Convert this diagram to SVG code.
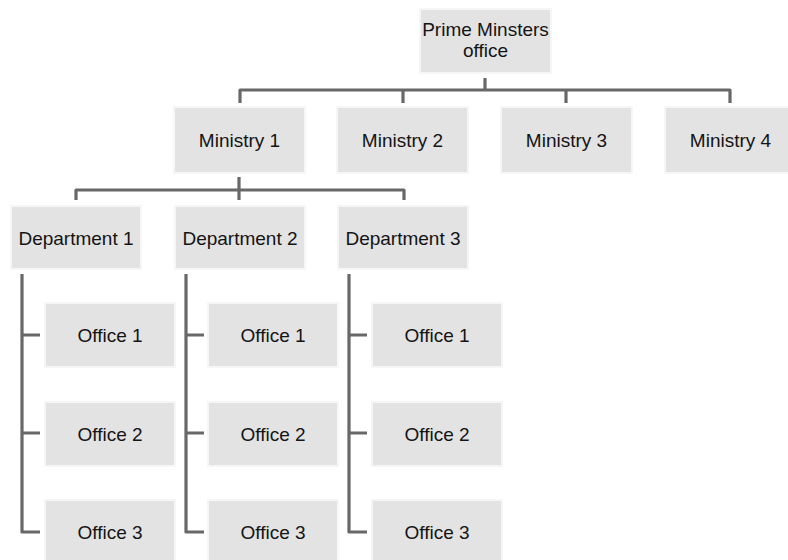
<svg xmlns="http://www.w3.org/2000/svg" width="788" height="560" viewBox="0 0 788 560">
  <style>
    .box { fill: #e3e3e3; stroke: #f6f6f6; stroke-width: 2; }
    .lbl { font-family: "Liberation Sans", Arial, sans-serif; font-size: 19px; fill: #141414; text-anchor: middle; }
    .wire { fill: none; stroke: #686868; stroke-width: 3.2; stroke-linejoin: round; }
  </style>
  <rect width="788" height="560" fill="#ffffff"/>

  <g id="connectors">
    <!-- PM office to ministries -->
    <path class="wire" d="M485,78 V90"/>
    <path class="wire" d="M240,103 V90 H730 V103"/>
    <path class="wire" d="M403,90 V103"/>
    <path class="wire" d="M566,90 V103"/>
    <!-- Ministry 1 to departments -->
    <path class="wire" d="M239,177 V200"/>
    <path class="wire" d="M76,200 V190 H404 V200"/>
    <!-- Department 1 to offices -->
    <path class="wire" d="M22,274 V532 H40"/>
    <path class="wire" d="M22,335 H40 M22,433 H40"/>
    <!-- Department 2 to offices -->
    <path class="wire" d="M186,274 V532 H204"/>
    <path class="wire" d="M186,335 H204 M186,433 H204"/>
    <!-- Department 3 to offices -->
    <path class="wire" d="M349,274 V532 H367"/>
    <path class="wire" d="M349,335 H367 M349,433 H367"/>
  </g>

  <g id="pm-office">
    <rect class="box" x="420" y="9" width="131" height="64"/>
    <text class="lbl" x="485.5" y="36">Prime Minsters</text>
    <text class="lbl" x="485.5" y="57">office</text>
  </g>

  <g id="ministry-1">
    <rect class="box" x="174" y="107" width="131" height="66"/>
    <text class="lbl" x="239.5" y="147">Ministry 1</text>
  </g>
  <g id="ministry-2">
    <rect class="box" x="337" y="107" width="131" height="66"/>
    <text class="lbl" x="402.5" y="147">Ministry 2</text>
  </g>
  <g id="ministry-3">
    <rect class="box" x="501" y="107" width="131" height="66"/>
    <text class="lbl" x="566.5" y="147">Ministry 3</text>
  </g>
  <g id="ministry-4">
    <rect class="box" x="665" y="107" width="131" height="66"/>
    <text class="lbl" x="730.5" y="147">Ministry 4</text>
  </g>

  <g id="department-1">
    <rect class="box" x="11" y="206" width="130" height="63"/>
    <text class="lbl" x="76" y="245">Department 1</text>
  </g>
  <g id="department-2">
    <rect class="box" x="175" y="206" width="130" height="63"/>
    <text class="lbl" x="240" y="245">Department 2</text>
  </g>
  <g id="department-3">
    <rect class="box" x="338" y="206" width="130" height="63"/>
    <text class="lbl" x="403" y="245">Department 3</text>
  </g>

  <g id="d1-office-1">
    <rect class="box" x="45" y="303" width="130" height="64"/>
    <text class="lbl" x="110" y="342">Office 1</text>
  </g>
  <g id="d1-office-2">
    <rect class="box" x="45" y="402" width="130" height="64"/>
    <text class="lbl" x="110" y="441">Office 2</text>
  </g>
  <g id="d1-office-3">
    <rect class="box" x="45" y="500" width="130" height="64"/>
    <text class="lbl" x="110" y="539">Office 3</text>
  </g>

  <g id="d2-office-1">
    <rect class="box" x="208" y="303" width="130" height="64"/>
    <text class="lbl" x="273" y="342">Office 1</text>
  </g>
  <g id="d2-office-2">
    <rect class="box" x="208" y="402" width="130" height="64"/>
    <text class="lbl" x="273" y="441">Office 2</text>
  </g>
  <g id="d2-office-3">
    <rect class="box" x="208" y="500" width="130" height="64"/>
    <text class="lbl" x="273" y="539">Office 3</text>
  </g>

  <g id="d3-office-1">
    <rect class="box" x="372" y="303" width="130" height="64"/>
    <text class="lbl" x="437" y="342">Office 1</text>
  </g>
  <g id="d3-office-2">
    <rect class="box" x="372" y="402" width="130" height="64"/>
    <text class="lbl" x="437" y="441">Office 2</text>
  </g>
  <g id="d3-office-3">
    <rect class="box" x="372" y="500" width="130" height="64"/>
    <text class="lbl" x="437" y="539">Office 3</text>
  </g>
</svg>
